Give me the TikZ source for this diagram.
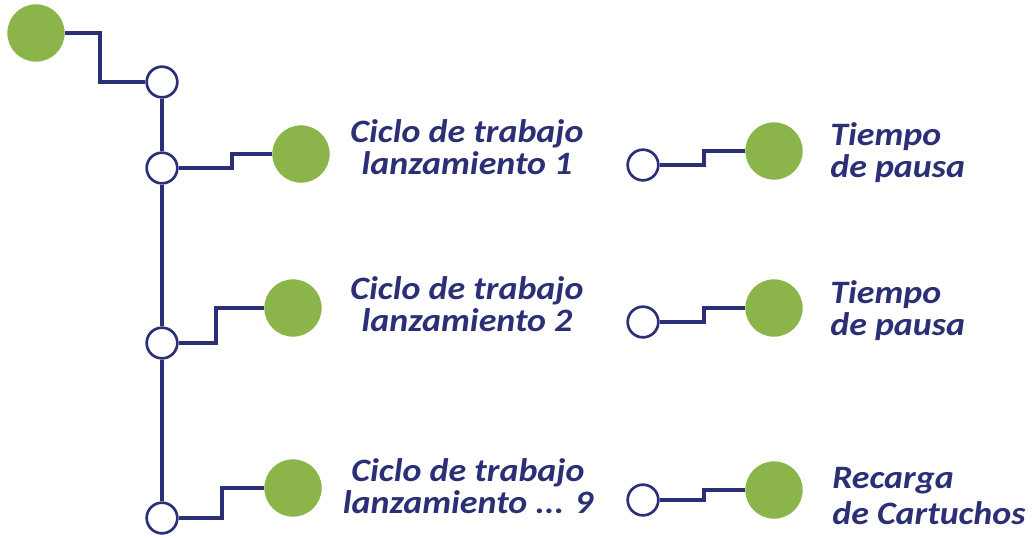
\documentclass[tikz,border=0pt]{standalone}
\usepackage{fontspec}
\setmainfont{Carlito}
\newfontfamily\lblfont{Carlito}[FakeStretch=1.1]
\definecolor{navy}{HTML}{2B3076}
\definecolor{leaf}{HTML}{8BB44A}
\tikzset{
  conn/.style={draw=navy, line width=2.7pt},
  hollow/.style={circle, draw=navy, line width=2pt, fill=white, minimum size=23pt, inner sep=0pt},
  dot/.style={circle, fill=leaf, minimum size=43pt, inner sep=0pt},
  lbl/.style={text=navy, font=\lblfont\fontsize{24.5}{24}\selectfont\bfseries\itshape, inner sep=0pt},
}
\begin{document}
\begin{tikzpicture}[x=0.75pt, y=-0.75pt]
\useasboundingbox (0,0) rectangle (1035,537);
% nodes
\node[dot] (g0) at (36,33) {};
\node[hollow] (w0) at (162,82) {};
\node[hollow] (w1) at (162,168) {};
\node[hollow] (w2) at (162,343) {};
\node[hollow] (w3) at (162,518) {};
\node[dot] (g1) at (301,154) {};
\node[dot] (g2) at (293,308) {};
\node[dot] (g3) at (293,488) {};
\node[hollow] (r1) at (643,165) {};
\node[hollow] (r2) at (643,322) {};
\node[hollow] (r3) at (643,500) {};
\node[dot] (h1) at (774,151) {};
\node[dot] (h2) at (774,308) {};
\node[dot] (h3) at (774,490) {};
% connectors
\draw[conn] (g0.east) -| (100,60) |- (w0.west);
\draw[conn] (w0.south) -- (w1.north);
\draw[conn] (w1.south) -- (w2.north);
\draw[conn] (w2.south) -- (w3.north);
\draw[conn] (w1.east) -| (232,160) |- (g1.west);
\draw[conn] (w2.east) -| (216,320) |- (g2.west);
\draw[conn] (w3.east) -| (222,500) |- (g3.west);
\draw[conn] (r1.east) -| (704,158) |- (h1.west);
\draw[conn] (r2.east) -| (704,315) |- (h2.west);
\draw[conn] (r3.east) -| (704,495) |- (h3.west);
% labels
\node[lbl, align=center] (t1) at (467,147.5) {Ciclo de trabajo\\lanzamiento 1};
\node[lbl, align=center] (t2) at (467,304.5) {Ciclo de trabajo\\lanzamiento 2};
\node[lbl, align=center] (t3) at (468,486.5) {Ciclo de trabajo\\lanzamiento ... 9};
\node[lbl, align=left, anchor=west] (u1) at (830,152.5) {Tiempo\\de pausa};
\node[lbl, align=left, anchor=west] (u2) at (830,310.5) {Tiempo\\de pausa};
\node[lbl, align=left, anchor=west, font=\lblfont\fontsize{24.5}{27}\selectfont\bfseries\itshape] (u3) at (832,496.5) {Recarga\\de Cartuchos};
\end{tikzpicture}
\end{document}
